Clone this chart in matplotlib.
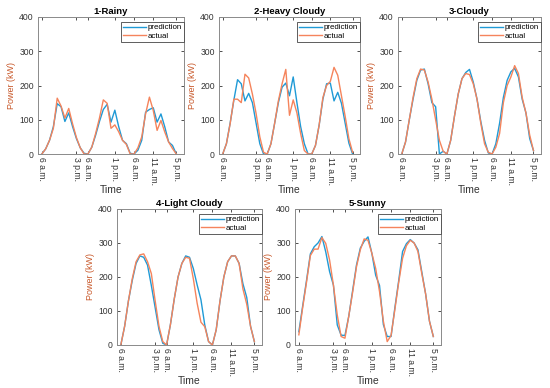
import numpy as np
import matplotlib
matplotlib.use("Agg")
import matplotlib.pyplot as plt

plt.rcParams['font.family'] = ['Liberation Sans', 'DejaVu Sans']

# hourly samples, 6 a.m. - 5 p.m., three days per panel
tick_pos = [0, 9, 12, 19, 24, 29, 35]
tick_labels = ["6 a.m.", "3 p.m.", "6 a.m.", "1 p.m.", "6 a.m.", "11 a.m.", "5 p.m."]

titles = ["1-Rainy", "2-Heavy Cloudy", "3-Cloudy", "4-Light Cloudy", "5-Sunny"]

pred_rainy = [0, 15, 40, 80, 147, 138, 95, 120, 80, 45, 18, 2,
              0, 20, 55, 95, 130, 145, 93, 128, 80, 40, 30, 2,
              0, 11, 40, 122, 130, 135, 93, 117, 79, 35, 25, 0]
act_rainy = [0, 15, 40, 75, 163, 140, 105, 133, 88, 48, 18, 0,
             0, 20, 60, 105, 158, 148, 75, 85, 65, 40, 28, 0,
             0, 18, 50, 117, 166, 127, 69, 98, 64, 35, 16, 0]

pred_heavy = [0, 30, 90, 157, 217, 205, 155, 177, 150, 90, 30, 0,
              0, 30, 90, 150, 195, 207, 170, 225, 150, 80, 30, 0,
              0, 25, 85, 160, 205, 207, 155, 180, 148, 90, 32, 0]
act_heavy = [0, 30, 88, 160, 160, 150, 233, 222, 175, 118, 50, 5,
             0, 30, 90, 155, 205, 247, 113, 158, 120, 60, 10, 0,
             0, 25, 85, 165, 200, 212, 253, 230, 170, 110, 45, 5]

pred_cloudy = [0, 35, 100, 160, 215, 245, 248, 205, 150, 138, 0, 8,
               0, 40, 110, 175, 220, 238, 247, 210, 160, 95, 40, 3,
               0, 30, 90, 165, 215, 240, 250, 225, 160, 120, 45, 10]
act_cloudy = [0, 35, 100, 165, 220, 248, 245, 210, 160, 100, 40, 8,
              0, 40, 110, 175, 220, 235, 232, 205, 160, 90, 30, 5,
              0, 20, 60, 150, 200, 225, 258, 235, 165, 120, 55, 10]

pred_light = [0, 55, 130, 190, 240, 262, 258, 235, 175, 110, 45, 5,
              0, 60, 135, 200, 240, 262, 258, 225, 177, 133, 59, 10,
              0, 45, 130, 200, 245, 262, 262, 240, 180, 140, 55, 10]
act_light = [0, 55, 130, 195, 245, 265, 268, 245, 210, 130, 55, 10,
             0, 60, 135, 200, 240, 258, 255, 195, 123, 67, 54, 10,
             0, 45, 130, 200, 245, 262, 262, 240, 165, 120, 55, 10]

pred_sunny = [39, 115, 190, 268, 289, 300, 319, 274, 216, 176, 59, 29,
              28, 85, 160, 235, 285, 305, 318, 270, 205, 175, 60, 25,
              25, 110, 190, 275, 298, 310, 300, 280, 215, 150, 70, 25]
act_sunny = [30, 110, 185, 263, 282, 282, 316, 299, 250, 176, 88, 25,
             20, 85, 155, 230, 280, 312, 308, 270, 225, 157, 70, 10,
             28, 105, 185, 255, 292, 308, 300, 275, 210, 150, 70, 25]

predictions = [pred_rainy, pred_heavy, pred_cloudy, pred_light, pred_sunny]
actuals = [act_rainy, act_heavy, act_cloudy, act_light, act_sunny]

# axes rectangles in pixels: left, top, right, bottom
rects_px = [(38, 17, 184, 154), (219, 17, 360, 154), (398, 17, 541, 154),
            (117, 209, 262, 345), (295, 209, 441, 345)]

W, H = 550, 388
BLUE = "#1f9ad6"
ORANGE = "#f5845c"

fig = plt.figure(figsize=(W / 100, H / 100), dpi=100)

for k in range(5):
    l, t, r, b = rects_px[k]
    ax = fig.add_axes([l / W, (H - b) / H, (r - l) / W, (b - t) / H])
    x = np.arange(len(predictions[k]))
    ax.plot(x, predictions[k], color=BLUE, lw=1.0, label="prediction")
    ax.plot(x, actuals[k], color=ORANGE, lw=1.0, label="actual")
    ax.set_xlim(-1, 37)
    ax.set_ylim(0, 400)
    ax.set_yticks([0, 100, 200, 300, 400])
    ax.set_xticks(tick_pos)
    ax.set_xticklabels(tick_labels, rotation=-90)
    ax.tick_params(direction="in", length=2, width=0.6, top=True, right=True,
                   labelsize=6.2, colors="#333333", pad=2)
    ax.tick_params(axis="y", pad=3)
    for s in ax.spines.values():
        s.set_color("#8a8a8a")
        s.set_linewidth(0.7)
    ax.set_title(titles[k], fontsize=6.8, fontweight="bold", pad=2)
    ax.set_xlabel("Time", fontsize=7.5, labelpad=0, color="#333333")
    ax.set_ylabel("Power (kW)", fontsize=6.5, labelpad=2, color="#c8582a")
    leg = ax.legend(loc="upper right", bbox_to_anchor=(0.997, 0.965), fontsize=5.7,
                    fancybox=False, framealpha=1, edgecolor="#444444",
                    borderpad=0.25, labelspacing=0.15, handlelength=2.9,
                    handletextpad=0.15, borderaxespad=0.0)
    leg.get_frame().set_linewidth(0.6)

fig.savefig("out.png", dpi=100)
